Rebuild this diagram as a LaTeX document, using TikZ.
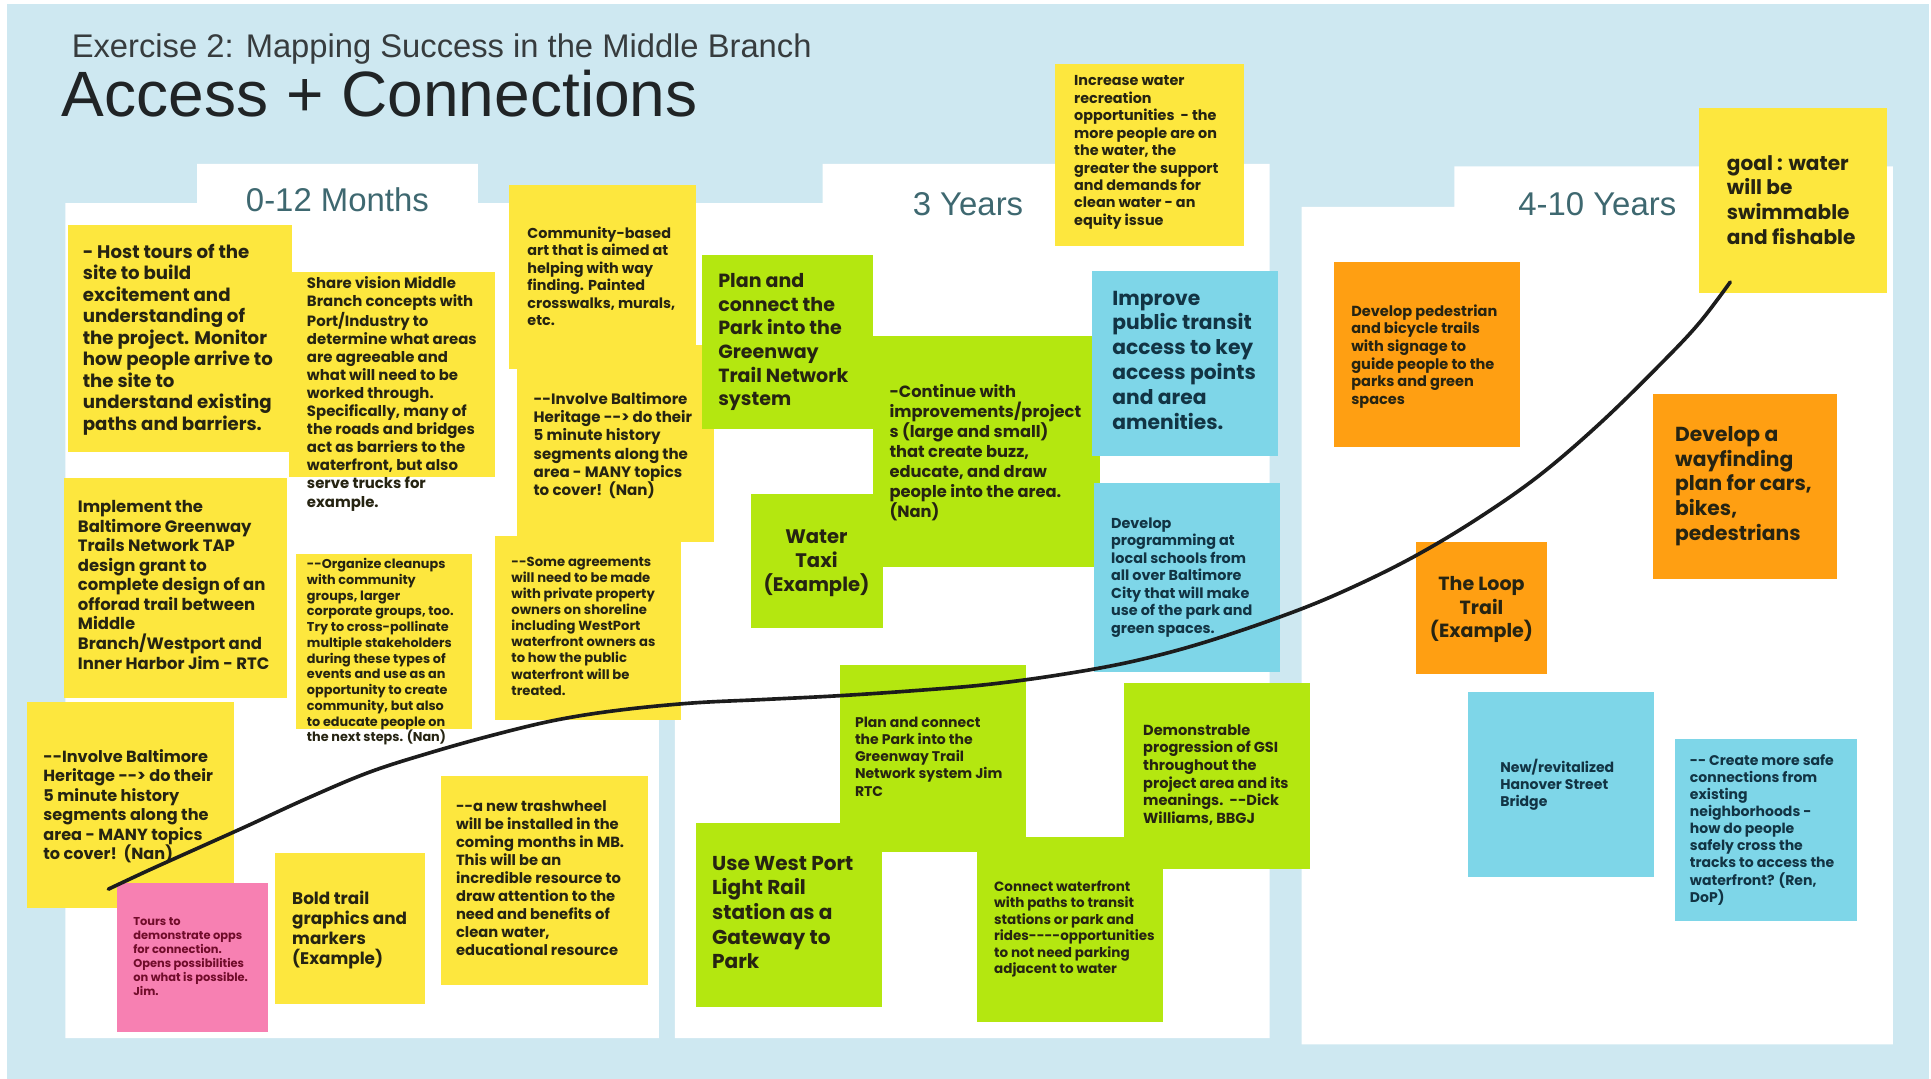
\documentclass[tikz,border=0pt]{standalone}
\usepackage{fontspec}
\setmainfont{Poppins}
\newfontfamily\headfont{Liberation Sans}
\usepackage{tikz}
\usetikzlibrary{fit}

\definecolor{boardblue}{RGB}{206,232,241}
\definecolor{noteyellow}{RGB}{253,231,62}
\definecolor{notegreen}{RGB}{180,231,16}
\definecolor{notecyan}{RGB}{126,214,232}
\definecolor{noteorange}{RGB}{255,159,18}
\definecolor{notepink}{RGB}{247,128,178}
\definecolor{ink}{RGB}{38,36,18}
\definecolor{navyink}{RGB}{18,52,68}
\definecolor{pinkink}{RGB}{112,12,42}
\definecolor{headteal}{RGB}{62,104,112}
\definecolor{titlegray}{RGB}{55,60,62}
\definecolor{titleink}{RGB}{32,36,38}
\definecolor{curveblack}{RGB}{28,28,28}

\begin{document}
\begin{tikzpicture}[
  x=0.025cm, y=-0.025cm,
  panel/.style={fill=white},
  sticky/.style={inner sep=0pt, outer sep=0pt},
  ynote/.style={sticky, fill=noteyellow},
  gnote/.style={sticky, fill=notegreen},
  cnote/.style={sticky, fill=notecyan},
  onote/.style={sticky, fill=noteorange},
  pnote/.style={sticky, fill=notepink},
  memo/.style={anchor=north west, align=left, inner sep=0pt, text=ink},
  heading/.style={anchor=base, inner sep=0pt, text=headteal, font=\headfont\fontsize{19}{22}\selectfont},
  trend/.style={draw=curveblack, line width=2.1pt, line cap=round}
]
\useasboundingbox (0,0) rectangle (1568,876);
\fill[white] (0,0) rectangle (1568,876);
\fill[boardblue] (6,3) rectangle (1566,876);

% time panels
\fill[panel] (53,165) -- (160,165) -- (160,133) -- (388,133) -- (388,165) -- (535,165) -- (535,843) -- (53,843) -- cycle;
\fill[panel] (548,165) -- (668,165) -- (668,133) -- (1031,133) -- (1031,843) -- (548,843) -- cycle;
\fill[panel] (1057,168) -- (1181,168) -- (1181,135) -- (1537,135) -- (1537,848) -- (1057,848) -- cycle;

\node[anchor=base west, inner sep=0pt, text=titlegray, font=\headfont\fontsize{18.9}{22}\selectfont] (exercise) at (58,47) {Exercise 2: Mapping Success in the Middle Branch};
\node[anchor=base west, inner sep=0pt, text=titleink, font=\headfont\fontsize{37}{40}\selectfont] (access) at (50,95) {Access + Connections};

\node[heading] (months) at (274,172) {0-12 Months};
\node[heading] (threeyrs) at (786,175) {3 Years};
\node[heading] (tenyrs) at (1297,175) {4-10 Years};

% 0-12 months
\node[ynote, fit={(55,183) (237,367)}] (tours) {};
\node[memo, font=\bfseries\fontsize{10.5}{12.4}\selectfont] (tours-t) at (67,198) {- Host tours of the\\site to build\\excitement and\\understanding of\\the project. Monitor\\how people arrive to\\the site to\\understand existing\\paths and barriers.};
\node[ynote, fit={(235,221) (402,387)}] (share) {};
\node[memo, font=\bfseries\fontsize{8.6}{10.45}\selectfont] (share-t) at (249,224) {Share vision Middle\\Branch concepts with\\Port/Industry to\\determine what areas\\are agreeable and\\what will need to be\\worked through.\\Specifically, many of\\the roads and bridges\\act as barriers to the\\waterfront, but also\\serve trucks for\\example.};
\node[ynote, fit={(413,150) (565,300)}] (art) {};
\node[memo, font=\bfseries\fontsize{8.3}{10.1}\selectfont] (art-t) at (428,184) {Community-based\\art that is aimed at\\helping with way\\finding. Painted\\crosswalks, murals,\\etc.};
\node[ynote, fit={(420,280) (580,440)}] (heritage) {};
\node[memo, font=\bfseries\fontsize{8.7}{10.6}\selectfont] (heritage-t) at (433,318) {-{}-Involve Baltimore\\Heritage -{}-> do their\\5 minute history\\segments along the\\area - MANY topics\\to cover!~~(Nan)};
\node[ynote, fit={(52,388) (233,567)}] (grant) {};
\node[memo, font=\bfseries\fontsize{9.5}{11.3}\selectfont] (grant-t) at (63,406) {Implement the\\Baltimore Greenway\\Trails Network TAP\\design grant to\\complete design of an\\offorad trail between\\Middle\\Branch/Westport and\\Inner Harbor Jim - RTC};
\node[ynote, fit={(240,450) (383,592)}] (cleanup) {};
\node[memo, font=\bfseries\fontsize{7.4}{9.1}\selectfont] (cleanup-t) at (249,453) {-{}-Organize cleanups\\with community\\groups, larger\\corporate groups, too.\\Try to cross-pollinate\\multiple stakeholders\\during these types of\\events and use as an\\opportunity to create\\community, but also\\to educate people on\\the next steps. (Nan)};
\node[ynote, fit={(402,435) (553,585)}] (agree) {};
\node[memo, font=\bfseries\fontsize{7.6}{9.3}\selectfont] (agree-t) at (415,452) {-{}-Some agreements\\will need to be made\\with private property\\owners on shoreline\\including WestPort\\waterfront owners as\\to how the public\\waterfront will be\\treated.};
\node[ynote, fit={(22,570) (190,737)}] (heritage2) {};
\node[memo, font=\bfseries\fontsize{9.3}{11.3}\selectfont] (heritage2-t) at (35,608) {-{}-Involve Baltimore\\Heritage -{}-> do their\\5 minute history\\segments along the\\area - MANY topics\\to cover!~~(Nan)};
\node[pnote, fit={(95,717) (218,838)}] (demo) {};
\node[memo, text=pinkink, font=\bfseries\fontsize{6.6}{8.1}\selectfont] (demo-t) at (108,745) {Tours to\\demonstrate opps\\for connection.\\Opens possibilities\\on what is possible.\\Jim.};
\node[ynote, fit={(223,693) (345,815)}] (bold) {};
\node[memo, font=\bfseries\fontsize{9.7}{11.6}\selectfont] (bold-t) at (237,723) {Bold trail\\graphics and\\markers\\(Example)};
\node[ynote, fit={(358,630) (526,800)}] (trash) {};
\node[memo, font=\bfseries\fontsize{8.5}{10.4}\selectfont] (trash-t) at (370,650) {-{}-a new trashwheel\\will be installed in the\\coming months in MB.\\This will be an\\incredible resource to\\draw attention to the\\need and benefits of\\clean water,\\educational resource};

% 3 years
\node[ynote, fit={(857,52) (1010,200)}] (recreation) {};
\node[memo, font=\bfseries\fontsize{8.3}{10.1}\selectfont] (recreation-t) at (872,61) {Increase water\\recreation\\opportunities~~- the\\more people are on\\the water, the\\greater the support\\and demands for\\clean water - an\\equity issue};
\node[gnote, fit={(570,207) (709,348)}] (greenway) {};
\node[memo, font=\bfseries\fontsize{11}{13.6}\selectfont] (greenway-t) at (583,222) {Plan and\\connect the\\Park into the\\Greenway\\Trail Network\\system};
\node[gnote, fit={(709,273) (893,460)}] (buzz) {};
\node[memo, font=\bfseries\fontsize{9.4}{11.5}\selectfont] (buzz-t) at (722,312) {-Continue with\\improvements/project\\s (large and small)\\that create buzz,\\educate, and draw\\people into the area.\\(Nan)};
\node[cnote, fit={(887,220) (1038,370)}] (transit) {};
\node[memo, text=navyink, font=\bfseries\fontsize{11.7}{14.3}\selectfont] (transit-t) at (903,236) {Improve\\public transit\\access to key\\access points\\and area\\amenities.};
\node[gnote, fit={(610,401) (717,510)}] (taxi) {};
\node[memo, anchor=north, align=center, font=\bfseries\fontsize{11.3}{13.8}\selectfont] (taxi-t) at (663,430) {Water\\Taxi\\(Example)};
\node[cnote, fit={(888,392) (1039,546)}] (schools) {};
\node[memo, text=navyink, font=\bfseries\fontsize{8.3}{10.1}\selectfont] (schools-t) at (902,420) {Develop\\programming at\\local schools from\\all over Baltimore\\City that will make\\use of the park and\\green spaces.};
\node[gnote, fit={(682,540) (833,692)}] (greenway2) {};
\node[memo, font=\bfseries\fontsize{8.1}{9.9}\selectfont] (greenway2-t) at (694,582) {Plan and connect\\the Park into the\\Greenway Trail\\Network system Jim\\RTC};
\node[gnote, fit={(565,668) (716,818)}] (lightrail) {};
\node[memo, font=\bfseries\fontsize{11.6}{14.2}\selectfont] (lightrail-t) at (578,695) {Use West Port\\Light Rail\\station as a\\Gateway to\\Park};
\node[gnote, fit={(913,555) (1064,706)}] (gsi) {};
\node[memo, font=\bfseries\fontsize{8.4}{10.2}\selectfont] (gsi-t) at (928,588) {Demonstrable\\progression of GSI\\throughout the\\project area and its\\meanings.~~-{}-Dick\\Williams, BBGJ};
\node[gnote, fit={(793,680) (944,830)}] (rides) {};
\node[memo, font=\bfseries\fontsize{7.8}{9.5}\selectfont] (rides-t) at (807,715) {Connect waterfront\\with paths to transit\\stations or park and\\rides-{}-{}-{}-opportunities\\to not need parking\\adjacent to water};

% 4-10 years
\node[onote, fit={(1083,213) (1234,363)}] (trails) {};
\node[memo, font=\bfseries\fontsize{8.4}{10.2}\selectfont] (trails-t) at (1097,247) {Develop pedestrian\\and bicycle trails\\with signage to\\guide people to the\\parks and green\\spaces};
\node[ynote, fit={(1380,88) (1532,238)}] (goal) {};
\node[memo, font=\bfseries\fontsize{11.6}{14.2}\selectfont] (goal-t) at (1402,126) {goal : water\\will be\\swimmable\\and fishable};
\node[onote, fit={(1342,320) (1492,470)}] (wayfind) {};
\node[memo, font=\bfseries\fontsize{11.7}{14.3}\selectfont] (wayfind-t) at (1360,346) {Develop a\\wayfinding\\plan for cars,\\bikes,\\pedestrians};
\node[onote, fit={(1150,440) (1256,547)}] (loop) {};
\node[memo, anchor=north, align=center, font=\bfseries\fontsize{11}{13.5}\selectfont] (loop-t) at (1203,468) {The Loop\\Trail\\(Example)};
\node[cnote, fit={(1192,562) (1343,712)}] (bridge) {};
\node[memo, text=navyink, font=\bfseries\fontsize{8.1}{9.9}\selectfont] (bridge-t) at (1218,616) {New/revitalized\\Hanover Street\\Bridge};
\node[cnote, fit={(1360,600) (1508,748)}] (safe) {};
\node[memo, text=navyink, font=\bfseries\fontsize{8.1}{9.9}\selectfont] (safe-t) at (1372,612) {-{}- Create more safe\\connections from\\existing\\neighborhoods -\\how do people\\safely cross the\\tracks to access the\\waterfront? (Ren,\\DoP)};

% success curve
\draw[trend] plot[smooth, tension=0.6] coordinates {(88,722) (120,707) (160,689) (200,671) (250,648) (300,627) (350,611) (400,597) (450,585) (500,577) (560,571) (620,568) (680,565) (740,561) (800,556) (860,548) (920,537) (980,521) (1050,497) (1100,476) (1150,451) (1200,421) (1250,386) (1300,343) (1350,294) (1380,262) (1405,229)};
\end{tikzpicture}
\end{document}
